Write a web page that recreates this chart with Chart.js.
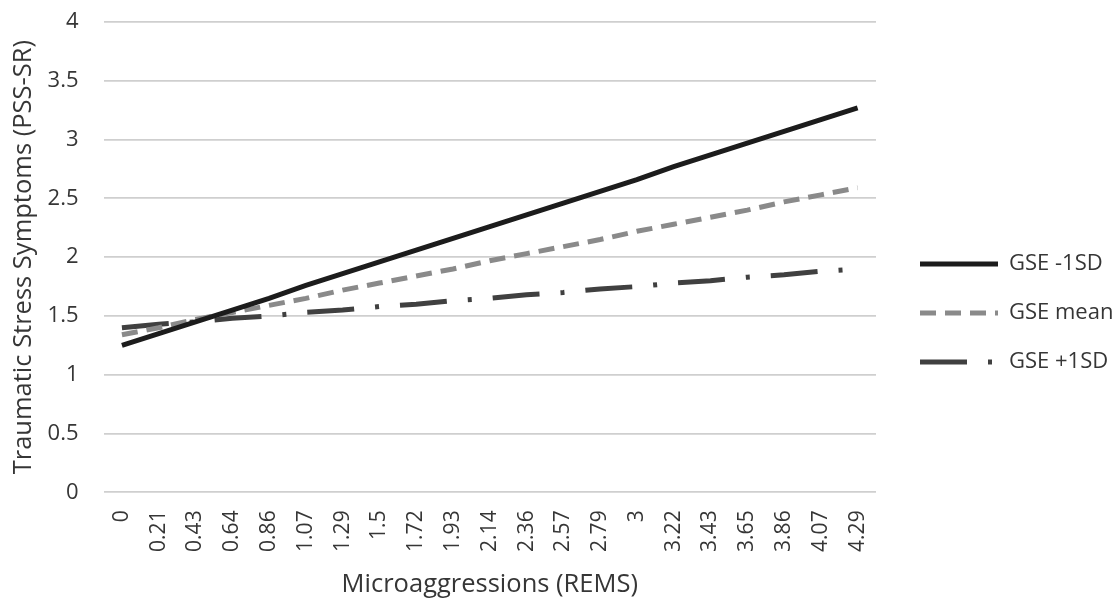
<!DOCTYPE html>
<html>
<head>
<meta charset="utf-8">
<script src="https://cdn.jsdelivr.net/npm/chart.js@4.4.1/dist/chart.umd.min.js"></script>
<style>
  html, body { margin: 0; padding: 0; background: #ffffff; }
  #wrap { width: 1117px; height: 598px; position: relative; }
</style>
</head>
<body>
<div id="wrap"><canvas id="c"></canvas></div>
<script>
const categories = ["0","0.21","0.43","0.64","0.86","1.07","1.29","1.5","1.72","1.93","2.14","2.36","2.57","2.79","3","3.22","3.43","3.65","3.86","4.07","4.29"];
const gseMinus1SD = [1.25,1.35,1.45,1.55,1.65,1.76,1.86,1.96,2.06,2.16,2.26,2.36,2.46,2.56,2.66,2.77,2.87,2.97,3.07,3.17,3.27];
const gseMean     = [1.34,1.40,1.47,1.53,1.59,1.65,1.72,1.78,1.84,1.90,1.97,2.03,2.09,2.15,2.22,2.28,2.34,2.40,2.47,2.53,2.59];
const gsePlus1SD  = [1.40,1.43,1.45,1.48,1.50,1.53,1.55,1.58,1.60,1.63,1.65,1.68,1.70,1.73,1.75,1.78,1.80,1.83,1.85,1.88,1.90];
const seriesNames = ["GSE -1SD", "GSE mean", "GSE +1SD"];
const yTicks = [0, 0.5, 1, 1.5, 2, 2.5, 3, 3.5, 4];
const xTitle = "Microaggressions (REMS)";
const yTitle = "Traumatic Stress Symptoms (PSS-SR)";

const FONT = "'Open Sans', 'DejaVu Sans', sans-serif";
const TXT = '#363636';
const SWATCH_W = 78;

const datasets = [
  { label: seriesNames[0], data: gseMinus1SD, borderColor: '#1c1c1c', backgroundColor: '#1c1c1c', borderWidth: 5, borderDash: [], pointRadius: 0, tension: 0 },
  { label: seriesNames[1], data: gseMean, borderColor: '#8a8a8a', backgroundColor: '#8a8a8a', borderWidth: 5, borderDash: [16, 9], pointRadius: 0, tension: 0 },
  { label: seriesNames[2], data: gsePlus1SD, borderColor: '#404040', backgroundColor: '#404040', borderWidth: 5, borderDash: [47, 21, 4, 21], pointRadius: 0, tension: 0 }
];

// legend swatches built from each dataset's own line style
function makeSwatch(ds) {
  const cv = document.createElement('canvas');
  cv.width = SWATCH_W; cv.height = 8;
  const c = cv.getContext('2d');
  c.strokeStyle = ds.borderColor;
  c.lineWidth = ds.borderWidth;
  c.setLineDash(ds.borderDash);
  c.beginPath();
  c.moveTo(0, cv.height / 2);
  c.lineTo(SWATCH_W, cv.height / 2);
  c.stroke();
  return cv;
}
const swatches = datasets.map(makeSwatch);

new Chart(document.getElementById('c'), {
  type: 'line',
  data: { labels: categories, datasets: datasets },
  options: {
    responsive: true,
    maintainAspectRatio: false,
    animation: false,
    layout: { padding: { top: 0, right: 0, bottom: 0, left: 0 } },
    plugins: {
      tooltip: { enabled: false },
      legend: {
        position: 'right',
        maxWidth: 224,
        title: { display: true, text: ' ', font: { size: 10 }, padding: 8 },
        labels: {
          usePointStyle: true,
          pointStyleWidth: SWATCH_W,
          padding: 27,
          color: TXT,
          font: { family: FONT, size: 22 },
          generateLabels: (chart) => {
            const items = Chart.defaults.plugins.legend.labels.generateLabels(chart);
            items.forEach((it) => { it.pointStyle = swatches[it.datasetIndex]; });
            return items;
          }
        }
      }
    },
    scales: {
      x: {
        type: 'category',
        offset: true,
        grid: { display: false, drawTicks: false },
        border: { display: false },
        ticks: {
          autoSkip: false,
          minRotation: 90,
          maxRotation: 90,
          padding: 18,
          color: TXT,
          font: { family: FONT, size: 21 }
        },
        title: {
          display: true,
          text: xTitle,
          color: TXT,
          font: { family: FONT, size: 25.5 },
          padding: { top: -0.5, bottom: -2 }
        }
      },
      y: {
        min: 0,
        max: 4,
        afterBuildTicks: (scale) => { scale.ticks = yTicks.map(v => ({ value: v })); },
        afterFit: (s) => { s.paddingTop = 22; },
        grid: { color: '#cfcfcf', lineWidth: 1.8, drawTicks: false },
        border: { display: false },
        ticks: {
          padding: 25,
          color: TXT,
          font: { family: FONT, size: 22 },
          callback: (v) => String(v)
        },
        title: {
          display: true,
          text: yTitle,
          color: TXT,
          font: { family: FONT, size: 25.5 },
          padding: { top: 8, bottom: -16 }
        }
      },
      yPad: {
        type: 'linear',
        position: 'right',
        display: true,
        grid: { display: false, drawTicks: false },
        border: { display: false },
        ticks: { display: false },
        afterFit: (s) => { s.width = 17; }
      }
    }
  }
});
</script>
</body>
</html>
